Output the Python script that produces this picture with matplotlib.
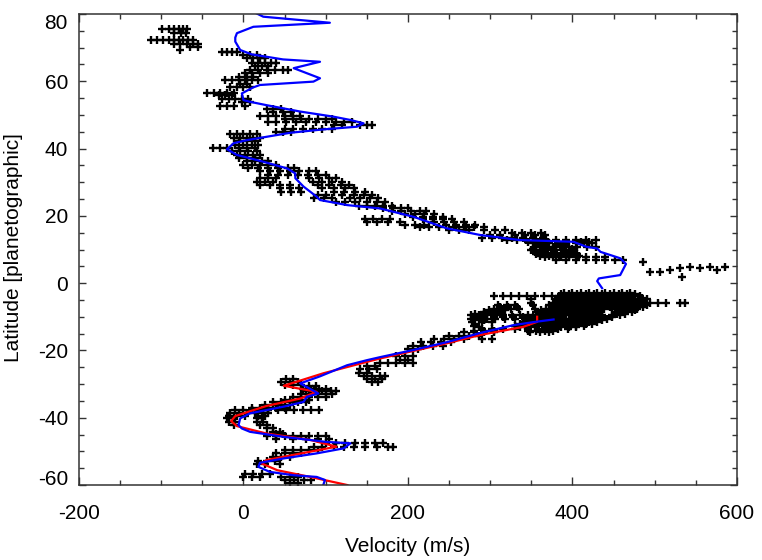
import matplotlib
matplotlib.use("Agg")
import matplotlib.pyplot as plt
from matplotlib.ticker import MultipleLocator

plt.rcParams["font.family"] = ["Liberation Sans", "DejaVu Sans"]

# ------------------------------------------------------------------ data
# Blue profile, northern branch (stops just south of the equator)
blue_n_lat = [81.0, 79.2, 77.4, 76.2, 74.3, 73.0, 71.8, 69.3, 68.0, 66.5, 65.8,
              63.9, 60.9, 59.9, 58.9, 58.2, 56.4, 54.4, 53.9, 52.9, 51.0, 49.5,
              48.5, 47.5, 46.5, 45.7, 44.7, 43.5, 42.5, 41.6, 39.8, 38.1, 36.1,
              34.1, 32.6, 31.2, 28.7, 25.7, 24.7, 23.2, 22.2, 19.7, 16.3, 14.3,
              12.8, 12.3, 10.8, 10.3, 9.3, 7.4, 5.7, 2.4, 1.4, 0.6, -1.5]
blue_n_vel = [9, 24, 105, 12, -8, -10, -10, -4, 10, 48, 93, 61, 93, 85, 20, 12,
              -2, 0, 8, 28, 69, 109, 130, 146, 138, 97, 57, 28, 4, -12, -20, -8,
              24, 53, 63, 63, 73, 89, 93, 126, 166, 207, 247, 288, 336, 401, 417,
              430, 434, 458, 465, 458, 432, 430, 436]

# Blue profile, southern branch
blue_s_lat = [-10.8, -11.6, -12.5, -14.8, -17.5, -19.9, -22.0, -22.9, -24.4,
              -26.8, -27.7, -29.8, -32.8, -33.8, -35.3, -36.7, -38.7, -40.2,
              -42.2, -43.2, -44.2, -45.7, -47.2, -47.6, -49.1, -50.6, -52.1,
              -53.4, -54.6, -56.1, -57.1, -57.6, -58.5, -60.0, -61.0]
blue_s_vel = [377, 352, 328, 288, 248, 206, 166, 150, 126, 102, 93, 69, 91, 77,
              73, 49, 8, -4, -6, -2, 8, 49, 101, 130, 122, 89, 49, 20, 18, 32,
              61, 89, 99, 97, 97]

# Red profile (southern hemisphere only)
red_lat = [-10.0, -11.5, -13.0, -15.4, -17.9, -22.4, -23.4, -26.8, -30.5, -32.3,
           -34.3, -36.5, -39.5, -41.0, -42.5, -44.7, -46.6, -48.6, -50.1, -52.6,
           -53.6, -55.6, -57.6, -60.0, -61.0]
red_vel = [357, 357, 340, 288, 247, 166, 150, 97, 49, 89, 69, 28, -10, -15, -8,
           28, 81, 113, 81, 28, 22, 41, 81, 126, 134]

# Cloud-tracking measurements: (latitude, [velocities]) rows
obs_rows = [
    (75.5, [-99, -91, -85, -79, -73, -69]),
    (74.3, [-84, -76, -70]),
    (72.2, [-112, -105, -98, -91, -85, -79, -73, -67, -61]),
    (71.2, [-84, -77, -69, -61, -55]),
    (70.2, [-65, -55]),
    (69.3, [-77]),
    (68.8, [-26, -20, -14, -8]),
    (67.8, [0, 8, 16]),
    (66.8, [4, 12, 20, 26]),
    (65.5, [10, 18, 26, 34, 40]),
    (64.5, [14, 22, 30]),
    (63.3, [8, 18, 28, 38, 48, 54]),
    (62.5, [2, 10, 20, 30]),
    (61.2, [-6, 4, 12]),
    (60.3, [-22, -14, -6, 2, 10, 18]),
    (59.2, [-4, 4]),
    (58.2, [-16, -8, 0, 8]),
    (56.6, [-44, -36, -28, -20, -12]),
    (55.8, [-30, -22, -14]),
    (54.6, [-26, -18, -10, -2, 6]),
    (53.8, [-2, 8]),
    (52.6, [-28, -20, -12, 2]),
    (51.7, [28, 36, 46]),
    (50.8, [36, 48, 58]),
    (49.8, [20, 30, 40, 50, 60, 69]),
    (48.8, [50, 60, 70, 80, 90, 100, 108]),
    (47.9, [30, 40, 52, 64, 76, 88, 100, 112, 122, 132]),
    (47.0, [110, 120, 142, 150, 156]),
    (45.8, [50, 60, 72, 84, 96, 108]),
    (44.9, [40, 48, 58]),
    (44.2, [-16, -8, 0, 8, 16]),
    (43.2, [-12, -4, 4, 12, 20]),
    (42.2, [-6, 4, 14]),
    (41.2, [-10, 0, 10, 18]),
    (40.2, [-37, -28, -20, -6, 4, 14]),
    (39.2, [-14, -4, 6, 16]),
    (38.2, [-8, 2, 12, 20]),
    (37.2, [-6, 4, 14]),
    (36.2, [4, 14, 22, 30]),
    (35.2, [0, 10, 20, 30, 40]),
    (34.2, [6, 18, 30, 42, 54, 62]),
    (33.2, [20, 32, 44, 56, 68, 80, 88]),
    (32.2, [30, 42, 54, 66, 78, 90, 100]),
    (31.2, [20, 30, 40, 80, 92, 104, 112]),
    (30.2, [16, 26, 36, 84, 96, 108, 120]),
    (29.2, [20, 32, 44, 56, 90, 104, 118, 128]),
    (28.2, [44, 56, 68, 96, 110, 124, 134]),
    (27.2, [46, 58, 70, 110, 122, 136, 148]),
    (26.2, [90, 100, 120, 134, 146, 156]),
    (25.2, [86, 98, 108, 130, 142, 154, 164]),
    (24.2, [112, 124, 136, 150, 162, 172]),
    (23.0, [140, 150, 160, 170, 180]),
    (22.2, [170, 182, 192, 200]),
    (21.4, [180, 192, 204, 214, 222]),
    (20.6, [196, 208, 220, 232]),
    (19.8, [206, 218, 230, 242]),
    (19.0, [148, 158, 168, 178, 218, 230, 242, 254]),
    (18.2, [150, 162, 176, 190, 232, 244, 256, 268]),
    (17.4, [196, 208, 220, 246, 258, 270, 282]),
    (16.6, [214, 226, 238, 256, 268, 280, 292]),
    (15.8, [250, 262, 274, 292, 306, 318]),
    (15.0, [326, 338, 350, 362]),
    (14.2, [300, 312, 330, 342, 354, 366]),
    (13.4, [290, 302, 314, 326, 340, 352, 364]),
    (12.8, [320, 332, 344, 356, 368, 380, 392, 404, 416, 428]),
    (12.2, [346, 358, 370, 410, 420]),
    (11.8, [352, 362, 372, 382, 392, 404, 414, 424]),
    (11.2, [356, 368, 380, 392]),
    (10.8, [356, 366, 376, 386, 396, 406, 418, 428]),
    (10.2, [352, 364, 376, 388, 400]),
    (9.8, [350, 360, 370, 380, 390, 400]),
    (9.2, [354, 366, 378, 390, 402]),
    (8.8, [356, 366, 376, 386, 396, 406]),
    (8.2, [360, 372, 384, 396, 408]),
    (7.8, [366, 376, 386, 396, 406, 416, 428, 440]),
    (6.8, [380, 392, 404, 416, 428, 440, 452, 462]),
    (6.3, [486]),
    (4.9, [543, 567, 585]),
    (4.4, [531, 555]),
    (4.0, [519, 576]),
    (3.3, [494, 506]),
    (1.9, [533]),
    (-2.8, [390, 400, 410, 420, 430, 440, 450, 460, 470]),
    (-3.3, [386, 396, 406, 416, 426, 436, 446, 456, 466, 476]),
    (-3.8, [305, 315, 325, 335, 345, 355, 365, 375, 384, 394, 404, 414, 424,
            434, 444, 454, 464, 474, 482]),
    (-4.3, [382, 392, 402, 412, 422, 432, 442, 452, 462, 472, 484]),
    (-4.8, [350, 380, 390, 400, 410, 420, 430, 440, 450, 460, 470, 480, 490]),
    (-5.3, [384, 394, 404, 414, 424, 434, 444, 454, 464, 474, 484]),
    (-5.8, [350, 376, 386, 396, 406, 416, 426, 436, 446, 456, 466, 476, 486,
            494, 504, 514, 531, 537]),
    (-6.2, [378, 388, 398, 408, 418, 428, 438, 448, 458, 468, 478, 488]),
    (-6.6, [310, 320, 330, 352, 372, 382, 392, 402, 412, 422, 432, 442, 452,
            462, 472, 482, 490]),
    (-7.1, [312, 322, 332, 376, 386, 396, 406, 416, 426, 436, 446, 456, 466,
            476, 486]),
    (-7.6, [305, 315, 325, 335, 354, 368, 378, 388, 398, 408, 418, 428, 438,
            448, 458, 468, 478]),
    (-8.1, [298, 308, 318, 362, 372, 382, 392, 402, 412, 422, 432, 456, 466,
            476]),
    (-8.6, [292, 302, 312, 356, 364, 374, 384, 394, 404, 414, 424, 434, 452,
            462, 472]),
    (-9.1, [282, 292, 302, 312, 360, 370, 380, 390, 400, 410, 420, 430, 454,
            464]),
    (-9.6, [276, 286, 296, 306, 316, 326, 336, 346, 358, 368, 378, 388, 398,
            408, 418, 428, 436, 448, 458]),
    (-10.1, [280, 292, 304, 316, 328, 340, 352, 364, 376, 388, 400, 412, 424,
             436, 448]),
    (-10.6, [276, 286, 296, 306, 318, 330, 342, 352, 362, 372, 382, 392, 402,
             412, 422, 432, 442]),
    (-11.1, [280, 292, 346, 356, 366, 376, 386, 396, 406, 416, 426, 436]),
    (-11.6, [278, 290, 302, 340, 350, 360, 370, 380, 390, 400, 410, 420, 430]),
    (-12.1, [282, 336, 346, 356, 366, 376, 386, 396, 406, 416, 424]),
    (-12.6, [280, 330, 342, 354, 364, 374, 384, 394, 404, 414]),
    (-13.1, [286, 336, 346, 356, 366, 376, 386, 396, 404]),
    (-13.6, [290, 302, 316, 330, 346, 358, 370, 382, 394]),
    (-14.1, [280, 292, 304, 346, 356, 366, 376]),
    (-14.6, [268, 280, 292, 304, 348, 360, 372]),
    (-15.6, [250, 262, 274, 286]),
    (-16.6, [232, 244, 256, 268, 290, 302]),
    (-17.6, [216, 228, 240, 252]),
    (-18.6, [206, 218, 230, 242]),
    (-19.6, [200, 212]),
    (-21.8, [186, 196, 206]),
    (-22.8, [190, 200]),
    (-23.8, [166, 176, 186, 196, 206]),
    (-24.6, [150, 160]),
    (-25.6, [142, 152, 162]),
    (-26.6, [140, 150]),
    (-27.6, [146, 156, 166, 172]),
    (-28.4, [52, 60, 150, 160, 168]),
    (-29.4, [46, 56, 66, 156, 164]),
    (-30.4, [50, 60, 70]),
    (-30.6, [80, 88]),
    (-31.4, [72, 82, 92, 100]),
    (-32.2, [76, 86, 96, 106, 112]),
    (-33.0, [70, 80, 90, 100, 108]),
    (-33.8, [60, 70, 80, 90, 100]),
    (-34.6, [50, 60, 70, 80]),
    (-35.4, [36, 46, 56, 66, 76]),
    (-36.2, [26, 36, 46, 56]),
    (-37.0, [10, 20, 30, 40, 50]),
    (-37.8, [-10, 0, 10, 20, 30, 42, 52, 62, 72, 82, 92]),
    (-38.6, [-16, -6, 4, 14, 24, 30]),
    (-39.4, [-18, -8, 2, 18, 26]),
    (-40.2, [-20, -12, 16, 22]),
    (-41.2, [-18, -10, 16, 24]),
    (-42.2, [-12, 20, 28]),
    (-43.2, [28, 36]),
    (-44.2, [36, 44]),
    (-44.8, [40, 48]),
    (-45.4, [28, 40, 50, 60, 70, 80, 90, 100]),
    (-46.4, [40, 60, 76, 90, 104]),
    (-47.6, [100, 112, 124, 136, 148, 160, 170]),
    (-48.6, [86, 96, 110, 122, 134, 148, 162, 176, 182]),
    (-49.6, [50, 60, 70, 80, 90]),
    (-50.6, [40, 50, 60, 70]),
    (-51.6, [36, 46, 56]),
    (-52.8, [18, 28, 38]),
    (-53.8, [16, 26, 44]),
    (-56.6, [2, 12, 22, 32]),
    (-57.6, [0, 10, 20, 46, 56, 66]),
    (-58.6, [50, 62, 74, 82]),
    (-59.4, [56, 66]),
]

obs_lat = [lat for lat, vels in obs_rows for _ in vels]
obs_vel = [v for _, vels in obs_rows for v in vels]

# ------------------------------------------------------------------ plot
fig = plt.figure(figsize=(7.62, 5.60), dpi=100)
ax = fig.add_axes([79 / 762, 75 / 560, 658 / 762, 471 / 560])

ax.plot(obs_vel, obs_lat, linestyle="none", marker="+", color="black",
        markersize=5.5, markeredgewidth=1.7)
ax.plot(red_vel, red_lat, color="red", linewidth=1.6)
ax.plot(blue_n_vel, blue_n_lat, color="blue", linewidth=1.6)
ax.plot(blue_s_vel, blue_s_lat, color="blue", linewidth=1.6)

ax.set_xlim(-200, 600)
ax.set_ylim(-60, 80)
ax.xaxis.set_major_locator(MultipleLocator(200))
ax.xaxis.set_minor_locator(MultipleLocator(50))
ax.yaxis.set_major_locator(MultipleLocator(20))
ax.yaxis.set_minor_locator(MultipleLocator(5))

ax.tick_params(which="both", direction="in", top=True, right=True,
               labelsize=15, width=1, color="#333333")
ax.tick_params(axis="x", which="major", length=6, pad=14)
ax.tick_params(axis="x", which="minor", length=3.5)
ax.tick_params(axis="y", which="major", length=5, pad=8)
ax.tick_params(axis="y", which="minor", length=3.5)

for spine in ax.spines.values():
    spine.set_linewidth(1.1)
    spine.set_color("#333333")

ax.set_yticks(ax.get_yticks())
ax.set_yticklabels([str(int(t)) for t in ax.get_yticks()])
for lab in ax.get_yticklabels():
    if lab.get_text() == "80":
        lab.set_verticalalignment("top")
    elif lab.get_text() == "-60":
        lab.set_verticalalignment("baseline")
ax.set_xticks(ax.get_xticks())
ax.set_xticklabels([str(int(t)) for t in ax.get_xticks()])
ax.set_xlim(-200, 600)
ax.set_ylim(-60, 80)

fig.text(408 / 762, 1 - 547 / 560, "Velocity (m/s)", fontsize=15,
         ha="center", va="center")
fig.text(14 / 762, 1 - 248 / 560, "Latitude [planetographic]", fontsize=15,
         ha="center", va="center", rotation=90)

fig.savefig("out.png", dpi=100)
